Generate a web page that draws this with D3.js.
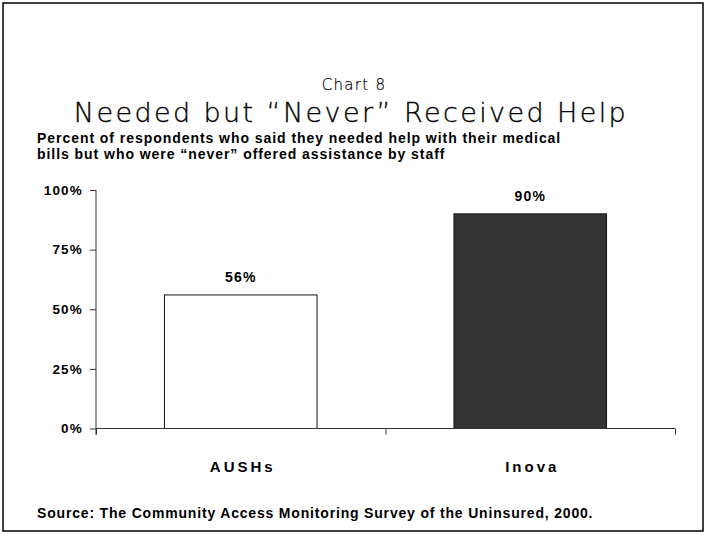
<!DOCTYPE html>
<html>
<head>
<meta charset="utf-8" />
<style>
	body { margin: 0; background: #fff; }
	svg { display: block; }
	.bold { font-family: "Liberation Sans", Arial, sans-serif; font-weight: bold; fill: #000; }
	.light { font-family: "DejaVu Sans", sans-serif; font-weight: 200; fill: #000; stroke: #000; stroke-width: 0.35px; }
</style>
<title>Chart 8</title>
</head>
<body>
<script src="https://cdn.jsdelivr.net/npm/d3@7"></script>
<script>
	// data
	var categories = ["AUSHs", "Inova"];
	var values = [56, 90];
	var fills = ["#ffffff", "#333333"];
	var yTicks = [0, 25, 50, 75, 100];

	var W = 707, H = 535;
	var svg = d3.select("body").append("svg").attr("width", W).attr("height", H);

	// frame
	svg.append("rect")
		.attr("x", 3).attr("y", 3)
		.attr("width", 700).attr("height", 528)
		.attr("fill", "none").attr("stroke", "#000").attr("stroke-width", 1.5);

	// titles
	svg.append("text").attr("class", "light")
		.attr("x", 354).attr("y", 90)
		.attr("text-anchor", "middle")
		.style("font-size", "15px").style("letter-spacing", "1.3px")
		.style("stroke-width", "0.2px")
		.text("Chart 8");
	svg.append("text").attr("class", "light")
		.attr("x", 351).attr("y", 122)
		.attr("text-anchor", "middle")
		.style("font-size", "27px").style("letter-spacing", "2.4px")
		.text("Needed but \u201cNever\u201d Received Help");

	var sub = svg.append("text").attr("class", "bold")
		.style("font-size", "14px").style("letter-spacing", "0.95px");
	sub.append("tspan").attr("x", 37).attr("y", 143)
		.text("Percent of respondents who said they needed help with their medical");
	sub.append("tspan").attr("x", 37).attr("y", 159)
		.text("bills but who were \u201cnever\u201d offered assistance by staff");

	// scales
	var x = d3.scaleBand().domain(categories).range([96, 675]).paddingInner(0.473).paddingOuter(0.2365);
	var y = d3.scaleLinear().domain([0, 100]).range([428.5, 190]);

	// y axis
	var yAxis = d3.axisLeft(y).tickValues(yTicks).tickSize(6).tickFormat(d => d + "%");
	var gy = svg.append("g").attr("transform", "translate(96,0)").call(yAxis);
	gy.select(".domain").attr("d", "M0,190V435").attr("stroke", "#333");
	gy.selectAll(".tick line").attr("stroke", "#333");
	gy.selectAll(".tick text")
		.attr("x", -13)
		.style("font-size", "13.5px").style("letter-spacing", "1.2px")
		.style("font-family", "Liberation Sans, Arial, sans-serif").style("font-weight", "bold")
		.attr("fill", "#000");

	// bars
	svg.selectAll("rect.bar")
		.data(categories)
		.join("rect")
		.attr("class", "bar")
		.attr("x", d => x(d))
		.attr("width", x.bandwidth())
		.attr("y", (d, i) => y(values[i]))
		.attr("height", (d, i) => y(0) - y(values[i]))
		.attr("fill", (d, i) => fills[i])
		.attr("stroke", "#111").attr("stroke-width", 1);

	// value labels
	svg.selectAll("text.val")
		.data(categories)
		.join("text")
		.attr("class", "bold val")
		.attr("x", d => x(d) + x.bandwidth() / 2)
		.attr("y", (d, i) => y(values[i]) - 13)
		.attr("text-anchor", "middle")
		.style("font-size", "14px").style("letter-spacing", "1.2px")
		.text((d, i) => values[i] + "%");

	// x axis (ticks at category boundaries)
	var xl = d3.scaleLinear().domain([0, categories.length]).range([96, 675]);
	var gx = svg.append("g").attr("transform", "translate(0,428.5)")
		.call(d3.axisBottom(xl).tickValues(d3.range(categories.length + 1)).tickSize(6).tickFormat(""));
	gx.select(".domain").attr("d", "M96,0H675").attr("stroke", "#333");
	gx.selectAll(".tick line").attr("stroke", "#333");

	// category labels
	svg.selectAll("text.cat")
		.data(categories)
		.join("text")
		.attr("class", "bold cat")
		.attr("x", d => x(d) + x.bandwidth() / 2 + 2)
		.attr("y", 472)
		.attr("text-anchor", "middle")
		.style("font-size", "15px").style("letter-spacing", "3px")
		.text(d => d);

	// source
	svg.append("text").attr("class", "bold")
		.attr("x", 37).attr("y", 518)
		.style("font-size", "14px").style("letter-spacing", "0.82px")
		.text("Source: The Community Access Monitoring Survey of the Uninsured, 2000.");
</script>
</body>
</html>
